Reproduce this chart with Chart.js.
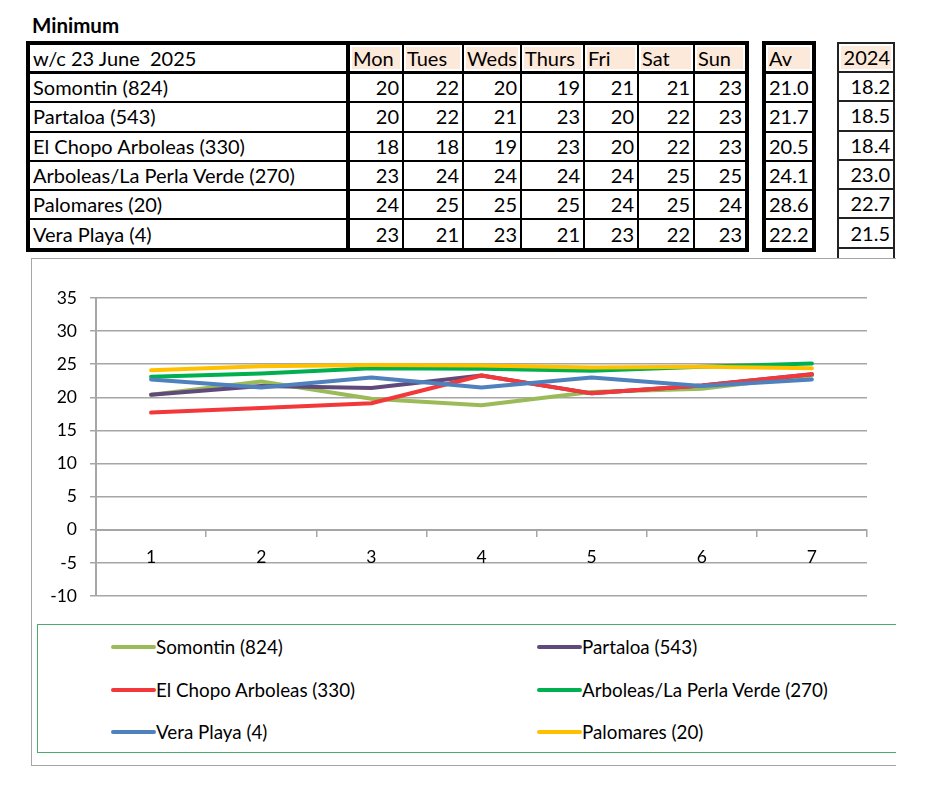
<!DOCTYPE html>
<html>
<head>
<meta charset="utf-8">
<script src="https://cdn.jsdelivr.net/npm/chart.js@4"></script>
<style>
  html, body { margin: 0; padding: 0; background: #fff; }
  body { width: 927px; height: 800px; position: relative; overflow: hidden; font-family: Lato, "Open Sans", sans-serif; color: #000; }
  #title { position: absolute; left: 32px; top: 13px; font-weight: bold; font-size: 20.5px; }
  table { border-collapse: collapse; table-layout: fixed; position: absolute; font-size: 20px; }
  td { padding: 0 3px; white-space: pre; overflow: hidden; height: 27.3px; line-height: 25px; }
  #main { left: 26px; top: 41px; border: 4px solid #000; }
  #main td { border: 2px solid #000; }
  #main td.lab { border-right: 4px solid #000; text-align: left; }
  #main tr.hdr td { border-bottom: 3px solid #000; height: 26px; }
  td.num { text-align: right; }
  td.h { background: #FDE9D9; box-shadow: inset 0 0 0 2px #fff; text-align: left; }
  #av { left: 762px; top: 41px; border: 4px solid #000; }
  #av td { border-top: 2px solid #000; border-bottom: 2px solid #000; }
  #av tr.hdr td { border-bottom: 3px solid #000; height: 26px; }
  #yr { left: 837px; top: 42px; border: 2px solid #222; }
  #yr td { border: 2px solid #222; }
  #yr tr.hdr td { height: 27px; }
  #yr td.h { text-align: right; }
  #chartbox { position: absolute; left: 31px; top: 258px; width: 864px; height: 506px; border: 1.5px solid #A6A6A6; border-right: none; background: #fff; z-index: 1; }
  #c { position: absolute; left: 31px; top: 258px; z-index: 2; }
  #legend { position: absolute; left: 37px; top: 624px; width: 858px; height: 127px; border: 1.5px solid #4DAA6F; border-right: none; z-index: 2; }
  .li { position: absolute; height: 24px; line-height: 24px; font-size: 18.8px; white-space: nowrap; }
  .li span.sw { position: absolute; left: 0; top: 10px; width: 45px; height: 4px; border-radius: 2px; }
  .li span.tx { position: absolute; left: 45px; top: 0; }
</style>
</head>
<body>
<div id="title">Minimum</div>
<table id="main"></table>
<table id="av"></table>
<table id="yr"></table>
<div id="chartbox"></div>
<canvas id="c" width="864" height="366"></canvas>
<div id="legend"></div>
<script>
// ---- data ----
const weekLabel = "w/c 23 June  2025";
const dayNames = ["Mon", "Tues", "Weds", "Thurs", "Fri", "Sat", "Sun"];
const stations = ["Somontin (824)", "Partaloa (543)", "El Chopo Arboleas (330)", "Arboleas/La Perla Verde (270)", "Palomares (20)", "Vera Playa (4)"];
const tableSomontin = [20, 22, 20, 19, 21, 21, 23];
const tablePartaloa = [20, 22, 21, 23, 20, 22, 23];
const tableElChopo = [18, 18, 19, 23, 20, 22, 23];
const tableArboleas = [23, 24, 24, 24, 24, 25, 25];
const tablePalomares = [24, 25, 25, 25, 24, 25, 24];
const tableVera = [23, 21, 23, 21, 23, 22, 23];
const averages = ["21.0", "21.7", "20.5", "24.1", "28.6", "22.2"];
const values2024 = ["18.2", "18.5", "18.4", "23.0", "22.7", "21.5"];

const xLabels = ["1", "2", "3", "4", "5", "6", "7"];
const yTicks = [35, 30, 25, 20, 15, 10, 5, 0, -5, -10];
const seriesNames = ["Somontin (824)", "Partaloa (543)", "El Chopo Arboleas (330)", "Arboleas/La Perla Verde (270)", "Vera Playa (4)", "Palomares (20)"];
const somontin = [20.4, 22.4, 19.8, 18.8, 20.8, 21.3, 23.3];
const partaloa = [20.4, 21.7, 21.4, 23.3, 20.6, 21.8, 23.5];
const elChopo = [17.7, 18.4, 19.1, 23.3, 20.6, 21.8, 23.5];
const arboleas = [23.1, 23.6, 24.4, 24.3, 24.0, 24.6, 25.1];
const veraPlaya = [22.7, 21.5, 23.0, 21.5, 23.0, 21.7, 22.7];
const palomares = [24.1, 24.7, 24.9, 24.8, 24.5, 24.6, 24.4];
const seriesColors = ["#9BBB59", "#604A7B", "#F2383A", "#00B050", "#4F81BD", "#FFC000"];

// ---- tables ----
const tableRows = [tableSomontin, tablePartaloa, tableElChopo, tableArboleas, tablePalomares, tableVera];
const colW = [320, 55, 60, 58, 63, 54, 56, 53];
function el(tag, cls, txt) { const e = document.createElement(tag); if (cls) e.className = cls; if (txt !== undefined) e.textContent = txt; return e; }

const main = document.getElementById('main');
const cg = el('colgroup');
colW.forEach(w => { const c = el('col'); c.style.width = w + 'px'; cg.appendChild(c); });
main.appendChild(cg);
let tr = el('tr', 'hdr');
tr.appendChild(el('td', 'lab', weekLabel));
dayNames.forEach(d => tr.appendChild(el('td', 'h', d)));
main.appendChild(tr);
stations.forEach((s, i) => {
  const r = el('tr');
  r.appendChild(el('td', 'lab', s));
  tableRows[i].forEach(v => r.appendChild(el('td', 'num', String(v))));
  main.appendChild(r);
});

const av = document.getElementById('av');
const cg2 = el('colgroup'); const c2 = el('col'); c2.style.width = '48px'; cg2.appendChild(c2); av.appendChild(cg2);
tr = el('tr', 'hdr'); tr.appendChild(el('td', 'h', 'Av')); av.appendChild(tr);
averages.forEach(a => { const r = el('tr'); r.appendChild(el('td', 'num', a)); av.appendChild(r); });

const yr = document.getElementById('yr');
const cg3 = el('colgroup'); const c3 = el('col'); c3.style.width = '56px'; cg3.appendChild(c3); yr.appendChild(cg3);
tr = el('tr', 'hdr'); tr.appendChild(el('td', 'h', '2024')); yr.appendChild(tr);
values2024.concat([""]).forEach(a => { const r = el('tr'); r.appendChild(el('td', 'num', a)); yr.appendChild(r); });

// ---- chart ----
const seriesData = [somontin, partaloa, elChopo, arboleas, veraPlaya, palomares];
const datasets = seriesNames.map((n, i) => ({
  label: n,
  data: seriesData[i],
  borderColor: seriesColors[i],
  backgroundColor: seriesColors[i],
  borderWidth: 4,
  pointRadius: 0,
  pointHoverRadius: 0,
  tension: 0,
  fill: false,
  borderCapStyle: 'round',
  borderJoinStyle: 'round',
  order: seriesNames.length - i
}));

const gridGray = '#A6A6A6';
new Chart(document.getElementById('c'), {
  type: 'line',
  data: { labels: xLabels, datasets },
  options: {
    responsive: false,
    animation: false,
    devicePixelRatio: 1,
    layout: { padding: { left: 0, right: 28, top: 40, bottom: 28 } },
    plugins: { legend: { display: false }, tooltip: { enabled: false }, title: { display: false } },
    scales: {
      x: {
        type: 'category',
        position: { y: 0 },
        offset: true,
        grid: { display: true, drawOnChartArea: false, drawTicks: true, tickLength: 6, offset: true, color: gridGray, lineWidth: 1.5 },
        border: { display: true, color: gridGray, width: 2 },
        ticks: { color: '#000', font: { family: 'Lato', size: 17.5 }, padding: 11, maxRotation: 0 }
      },
      y: {
        min: -10, max: 35,
        afterBuildTicks: (s) => { s.ticks = yTicks.map(v => ({ value: v })); },
        afterFit: (s) => { s.width = 65; },
        grid: { color: gridGray, lineWidth: 1.5, drawTicks: true, tickLength: 6 },
        border: { display: true, color: gridGray, width: 2 },
        ticks: { color: '#000', font: { family: 'Lato', size: 17.5 }, padding: 13 }
      }
    }
  }
});

// ---- legend (HTML, built from chart datasets) ----
const legend = document.getElementById('legend');
const colX = [73, 499];
const rowY = [10, 53, 95];
seriesNames.forEach((n, i) => {
  const item = el('div', 'li');
  item.style.left = colX[i % 2] + 'px';
  item.style.top = rowY[Math.floor(i / 2)] + 'px';
  const sw = el('span', 'sw'); sw.style.background = seriesColors[i];
  item.appendChild(sw);
  item.appendChild(el('span', 'tx', n));
  legend.appendChild(item);
});
</script>
</body>
</html>
